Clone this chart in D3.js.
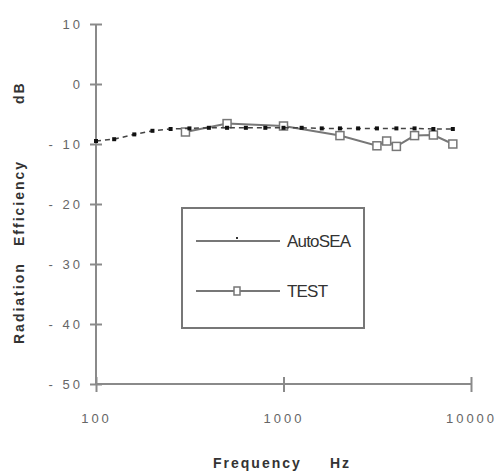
<!DOCTYPE html>
<html>
<head>
<meta charset="utf-8">
<script src="https://cdn.jsdelivr.net/npm/d3@7"></script>
<style>
  body { margin: 0; background: #fff; }
  text { font-family: "Liberation Sans", Arial, sans-serif; }
</style>
</head>
<body>
<svg id="chart" width="500" height="475"></svg>
<script>
// third-octave bands used by the AutoSEA prediction
var seaFreq = [100, 125, 160, 200, 250, 315, 400, 500, 630, 800, 1000, 1250, 1600, 2000, 2500, 3150, 4000, 5000, 6300, 8000];
var seaVal  = [-9.5, -9.2, -8.4, -7.8, -7.5, -7.4, -7.3, -7.3, -7.3, -7.3, -7.3, -7.3, -7.4, -7.4, -7.4, -7.4, -7.4, -7.4, -7.5, -7.5];

// measured values
var testFreq = [300, 500, 1000, 2000, 3150, 3550, 4000, 5000, 6300, 8000];
var testVal  = [-8.0, -6.6, -7.0, -8.6, -10.3, -9.5, -10.4, -8.6, -8.5, -10.0];

var yTicks = [10, 0, -10, -20, -30, -40, -50];
var xTicks = [100, 1000, 10000];
var legendNames = ["AutoSEA", "TEST"];

var svg = d3.select("#chart");

var x = d3.scaleLog().domain([100, 10000]).range([96, 471]);
var y = d3.scaleLinear().domain([-50, 10]).range([384, 24]);

var axisColor = "#8a8a8a";

// y axis
var yAxis = svg.append("g")
  .attr("transform", "translate(96,0)")
  .call(d3.axisLeft(y).tickValues(yTicks).tickSize(6).tickPadding(10)
    .tickFormat(function(d) { return d < 0 ? "- " + (-d) : d; }));
yAxis.select(".domain").attr("stroke", axisColor).attr("stroke-width", 2).attr("d", "M0,24V384");
yAxis.selectAll(".tick line").attr("x1", -6).attr("x2", 6).attr("stroke", axisColor).attr("stroke-width", 2);
yAxis.selectAll(".tick text").attr("fill", "#666").style("font-size", "13px").style("letter-spacing", "3px").attr("x", -13);

// x axis
var xAxis = svg.append("g")
  .attr("transform", "translate(0,384)")
  .call(d3.axisBottom(x).tickValues(xTicks).tickSize(8).tickPadding(22)
    .tickFormat(d3.format("d")));
xAxis.select(".domain").attr("stroke", axisColor).attr("stroke-width", 2).attr("d", "M96,0H471");
xAxis.selectAll(".tick line").attr("y1", -7).attr("y2", 8).attr("stroke", axisColor).attr("stroke-width", 2);
xAxis.selectAll(".tick text").attr("fill", "#666").style("font-size", "13px").style("letter-spacing", "3px");

// axis titles
function title(str, tx, ty, rot, anchor) {
  svg.append("text")
    .attr("transform", "translate(" + tx + "," + ty + ")" + (rot ? " rotate(-90)" : ""))
    .attr("text-anchor", anchor)
    .style("font-size", "14px").style("font-weight", "bold").style("letter-spacing", "2px")
    .attr("fill", "#333")
    .text(str);
}
title("Frequency", 213, 468, false, "start");
title("Hz", 330, 468, false, "start");
title("Radiation", 24, 344, true, "start");
title("Efficiency", 24, 246, true, "start");
title("dB", 24, 104, true, "start");

var line = d3.line()
  .x(function(d) { return x(d[0]); })
  .y(function(d) { return y(d[1]); });

var sea = d3.zip(seaFreq, seaVal);
var test = d3.zip(testFreq, testVal);

// TEST: gray solid line, open squares
svg.append("path")
  .datum(test)
  .attr("d", line)
  .attr("fill", "none")
  .attr("stroke", "#777")
  .attr("stroke-width", 2);

svg.selectAll(".test")
  .data(test)
  .enter()
  .append("rect")
    .attr("class", "test")
    .attr("x", function(d) { return x(d[0]) - 4; })
    .attr("y", function(d) { return y(d[1]) - 4; })
    .attr("width", 8)
    .attr("height", 8)
    .attr("fill", "#fff")
    .attr("stroke", "#777")
    .attr("stroke-width", 1.5);

// AutoSEA: dashed dark line, small black squares
svg.append("path")
  .datum(sea)
  .attr("d", line)
  .attr("fill", "none")
  .attr("stroke", "#444")
  .attr("stroke-width", 1.5)
  .attr("stroke-dasharray", "5,4");

svg.selectAll(".sea")
  .data(sea)
  .enter()
  .append("rect")
    .attr("class", "sea")
    .attr("x", function(d) { return x(d[0]) - 2; })
    .attr("y", function(d) { return y(d[1]) - 2; })
    .attr("width", 4)
    .attr("height", 4)
    .attr("fill", "#111");

// legend
var leg = svg.append("g");
leg.append("rect")
  .attr("x", 182).attr("y", 208).attr("width", 182).attr("height", 120)
  .attr("fill", "#fff").attr("stroke", "#777").attr("stroke-width", 2);

var legY = [241, 291];
legendNames.forEach(function(name, i) {
  leg.append("line")
    .attr("x1", 196).attr("x2", 280).attr("y1", legY[i]).attr("y2", legY[i])
    .attr("stroke", "#777").attr("stroke-width", 2);
  if (i === 0) {
    leg.append("rect").attr("x", 236).attr("y", legY[i] - 4).attr("width", 2).attr("height", 2).attr("fill", "#333");
  } else {
    leg.append("rect").attr("x", 234).attr("y", legY[i] - 4).attr("width", 6).attr("height", 8)
      .attr("fill", "#fff").attr("stroke", "#777").attr("stroke-width", 1.5);
  }
  leg.append("text")
    .attr("x", 287).attr("y", legY[i] + 6)
    .style("font-size", "17px").style("letter-spacing", "-0.8px")
    .attr("fill", "#333")
    .text(name);
});
</script>
</body>
</html>
